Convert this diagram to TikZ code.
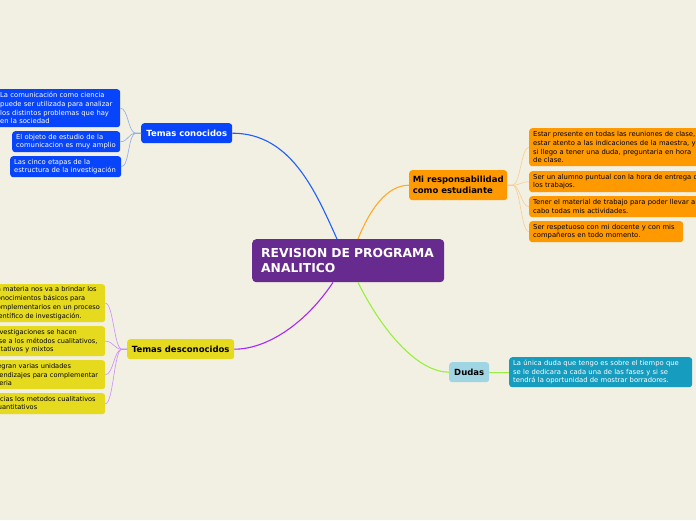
\documentclass[tikz,border=0pt]{standalone}
\usepackage{fontspec}
\setmainfont{DejaVu Sans}
\definecolor{bg}{RGB}{242,239,227}
\definecolor{cpurple}{RGB}{103,42,142}
\definecolor{cblue}{RGB}{8,68,250}
\definecolor{lblue}{RGB}{30,95,255}
\definecolor{llblue}{RGB}{140,170,240}
\definecolor{corange}{RGB}{255,153,0}
\definecolor{lorange}{RGB}{255,170,40}
\definecolor{llorange}{RGB}{250,205,140}
\definecolor{cyellow}{RGB}{230,218,30}
\definecolor{lpurple}{RGB}{165,40,255}
\definecolor{llpurple}{RGB}{205,140,255}
\definecolor{cgreen}{RGB}{150,240,60}
\definecolor{cdudas}{RGB}{160,214,228}
\definecolor{cteal}{RGB}{22,156,190}
\tikzset{
  smalltxt/.style={font=\fontsize{6.8}{8.7}\selectfont},
  box/.style={rounded corners=3pt, anchor=north west, inner xsep=4pt, inner ysep=0pt, align=left, smalltxt},
  bluebox/.style={box, fill=cblue, text=white},
  orangebox/.style={box, fill=corange, text=black},
  yellowbox/.style={box, fill=cyellow, text=black, font=\fontsize{6.6}{8.7}\selectfont},
  branch/.style={rounded corners=3pt, anchor=north west, inner sep=0pt, font=\fontsize{8.5}{11}\selectfont\bfseries},
  mainline/.style={line width=1.1pt},
  subline/.style={line width=0.6pt},
}
\begin{document}
\begin{tikzpicture}[x=1pt,y=-1pt]
\useasboundingbox (0,0) rectangle (696,520);
\clip (0,0) rectangle (696,520);
\fill[bg] (0,0) rectangle (696,520);

% center
\node[rounded corners=4pt, anchor=north west, fill=cpurple, text=white, inner xsep=9pt, inner ysep=0pt,
  minimum height=43pt, text width=174pt, align=left,
  font=\fontsize{12.3}{15}\selectfont\bfseries] (center) at (252,239) {REVISION DE PROGRAMA\\ANALITICO};

% Temas conocidos
\node[branch, fill=cblue, text=white, minimum width=91pt, minimum height=20pt] (tc) at (141,123) {Temas conocidos};
\node[bluebox, minimum height=38pt, text width=116pt] (b1) at (-4,89) {La comunicación como ciencia\\puede ser utilizada para analizar\\los distintos problemas que hay\\en la sociedad};
\node[bluebox, minimum height=21pt, text width=100pt] (b2) at (12,131) {El objeto de estudio de la\\comunicacion es muy amplio};
\node[bluebox, minimum height=21pt, text width=103pt] (b3) at (10,156) {Las cinco etapas de la\\estructura de la investigación};

% Mi responsabilidad
\node[branch, fill=corange, text=black, minimum width=98pt, minimum height=30pt, align=left] (mr) at (409,170) {Mi responsabilidad\\como estudiante};
\node[orangebox, minimum height=38pt, text width=180pt] (o1) at (529,128) {Estar presente en todas las reuniones de clase,\\estar atento a las indicaciones de la maestra, y\\si llego a tener una duda, preguntaria en hora\\de clase.};
\node[orangebox, minimum height=21pt, text width=180pt] (o2) at (529,171) {Ser un alumno puntual con la hora de entrega de\\los trabajos.};
\node[orangebox, minimum height=21pt, text width=180pt] (o3) at (529,196) {Tener el material de trabajo para poder llevar a\\cabo todas mis actividades.};
\node[orangebox, minimum height=21pt, text width=146pt] (o4) at (529,221) {Ser respetuoso con mi docente y con mis\\compañeros en todo momento.};

% Temas desconocidos
\node[branch, fill=cyellow, text=black, minimum width=107pt, minimum height=20pt] (td) at (127,339) {Temas desconocidos};
\node[yellowbox, minimum height=38pt, text width=108pt] (y1) at (-11,284) {La materia nos va a brindar los\\conocimientos básicos para\\complementarios en un proceso\\científico de investigación.};
\node[yellowbox, minimum height=30pt, text width=121pt] (y2) at (-24,326) {Las investigaciones se hacen\\en base a los métodos cualitativos,\\cuantitativos y mixtos};
\node[yellowbox, minimum height=29pt, text width=123pt] (y3) at (-26,360) {Se integran varias unidades\\de aprendizajes para complementar\\la materia};
\node[yellowbox, minimum height=21pt, text width=113pt] (y4) at (-16,393) {Gracias los metodos cualitativos\\y cuantitativos};

% Dudas
\node[branch, fill=cdudas, text=black, minimum width=40pt, minimum height=20pt] (du) at (449,362) {Dudas};
\node[box, fill=cteal, text=white, minimum height=30pt, text width=175pt] (dt) at (509,357) {La única duda que tengo es sobre el tiempo que\\se le dedicara a cada una de las fases y si se\\tendrá la oportunidad de mostrar borradores.};

% main connectors
\draw[mainline, lblue] (tc.east) .. controls +(58,0) and +(-22,-49) .. ([xshift=85pt]center.north west);
\draw[mainline, lorange] ([xshift=106pt]center.north west) .. controls +(12,-30) and +(-22,0) .. (mr.west);
\draw[mainline, lpurple] ([xshift=81pt]center.south west) .. controls +(-28,42) and +(32,0) .. (td.east);
\draw[mainline, cgreen] ([xshift=106pt]center.south west) .. controls +(26,52) and +(-30,0) .. (du.west);

% child connectors
\foreach \c in {b1,b2,b3}
  \draw[subline, llblue] (tc.west) -- +(-5,0) .. controls +(-8,0) and +(8,0) .. (\c.east);
\foreach \c in {o1,o2,o3,o4}
  \draw[subline, llorange] (mr.east) -- +(5,0) .. controls +(8,0) and +(-8,0) .. (\c.west);
\foreach \c in {y1,y2,y3,y4}
  \draw[subline, llpurple] (td.west) -- +(-5,0) .. controls +(-8,0) and +(8,0) .. (\c.east);
\draw[subline, cgreen] (du.east) -- (dt.west);
\end{tikzpicture}
\end{document}
